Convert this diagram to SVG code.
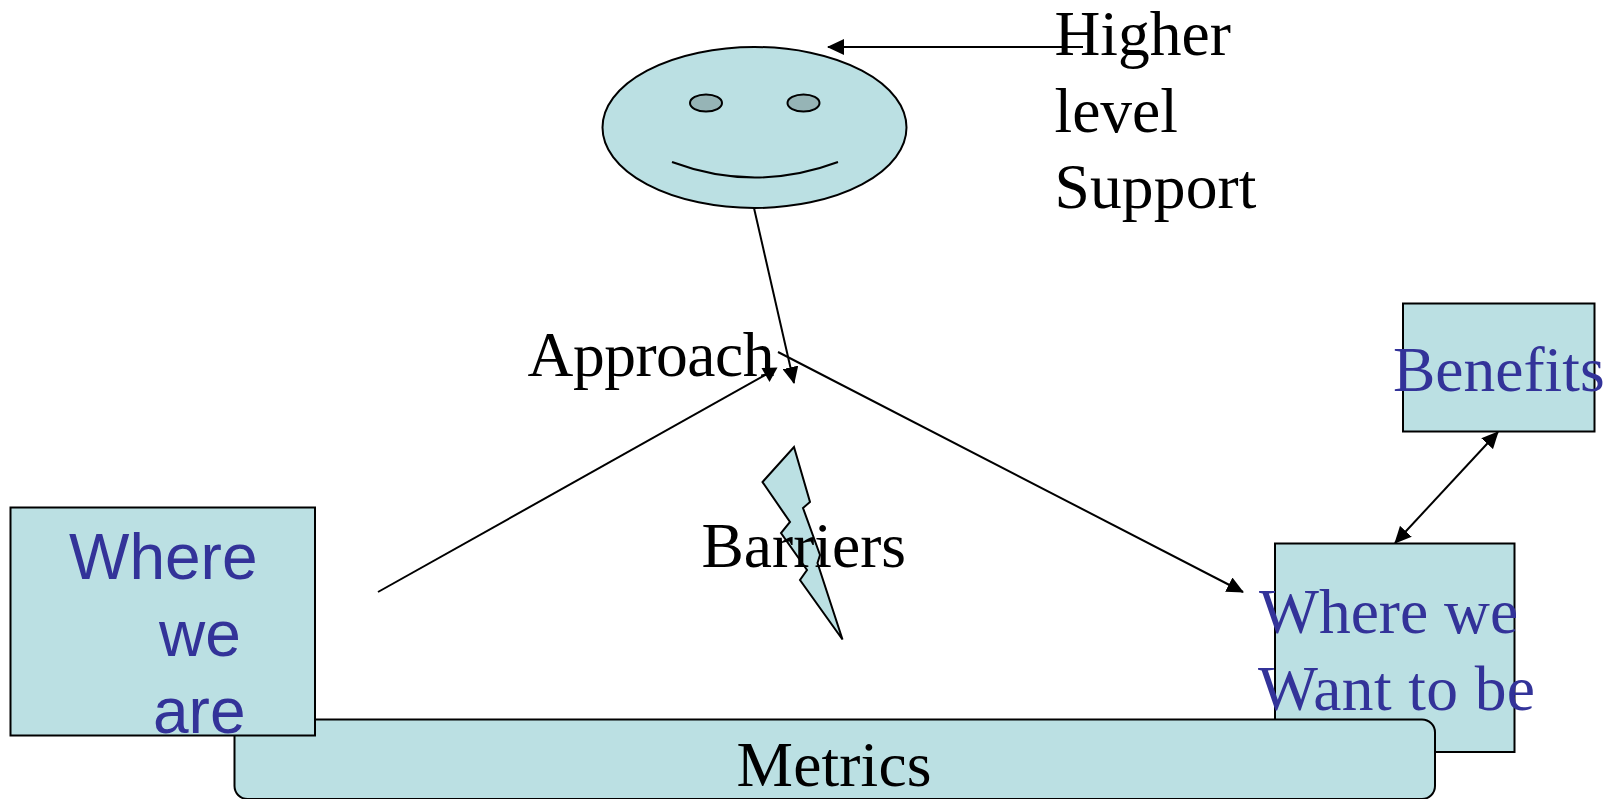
<svg xmlns="http://www.w3.org/2000/svg" width="1613" height="799" viewBox="0 0 1613 799">
<style>
.s{fill:#BBE0E3;stroke:#000;stroke-width:2}
.e{fill:#96B4B6}
.c{fill:none;stroke:#000;stroke-width:2}
.t{font-family:"Liberation Serif","Times New Roman",serif;font-size:63.5px;fill:#000}
.b{fill:#333399}
.a{font-family:"Liberation Sans",Arial,sans-serif;font-size:64px;fill:#333399}
</style>
<defs>
<marker id="h" viewBox="0 0 17 16" refX="16" refY="8" markerWidth="17" markerHeight="16" markerUnits="userSpaceOnUse" orient="auto-start-reverse"><path d="M0 0L17 8L0 16Z" fill="#000"/></marker>
</defs>
<rect width="1613" height="799" fill="#fff"/>
<g id="want"><rect class="s" x="1275" y="543.500" width="239.500" height="208.500"/></g>
<g id="metrics"><rect class="s" x="234.500" y="719.500" width="1200.500" height="79.500" rx="13"/><text class="t" x="736.500" y="786" textLength="195">Metrics</text></g>
<g id="where"><rect class="s" x="10.500" y="507.500" width="304.500" height="228"/><text class="a" x="69" y="579">Where</text><text class="a" x="159" y="656">we</text><text class="a" x="153" y="733">are</text></g>
<g id="want-label"><text class="t b" x="1259" y="633">Where we</text><text class="t b" x="1258" y="710" textLength="277">Want to be</text></g>
<g id="benefits"><rect class="s" x="1403" y="303.500" width="191.500" height="128"/><text class="t b" x="1393" y="391">Benefits</text></g>
<g id="face"><ellipse class="s" cx="754.500" cy="127.500" rx="152" ry="80.500"/><ellipse class="s e" cx="706" cy="103" rx="16" ry="8.500"/><ellipse class="s e" cx="803.500" cy="103" rx="16" ry="8.500"/><path class="c" d="M672 162Q755 193 838 162"/></g>
<g id="bolt"><path class="s" d="M794 447L810 502L803 508L820 555L817.500 563L842.500 639.500L800 580L807 570L781 533L790 522L762.500 482Z"/></g>
<g id="labels"><text class="t" x="1054.500" y="55">Higher</text><text class="t" x="1054.500" y="132">level</text><text class="t" x="1054.500" y="208" textLength="202">Support</text><text class="t" x="527.500" y="376" textLength="247">Approach</text><text class="t" x="701.500" y="567">Barriers</text></g>
<g id="connectors">
<path class="c" d="M1083 47H828" marker-end="url(#h)"/>
<path class="c" d="M754 208L794 383" marker-end="url(#h)"/>
<path class="c" d="M378 592L767 374"/>
<path d="M761.500 368L777.500 367.500L769.500 382Z" fill="#000"/>
<path class="c" d="M778 352L1243 592" marker-end="url(#h)"/>
<path class="c" d="M1498 432L1395 543" marker-start="url(#h)" marker-end="url(#h)"/>
</g>
</svg>
